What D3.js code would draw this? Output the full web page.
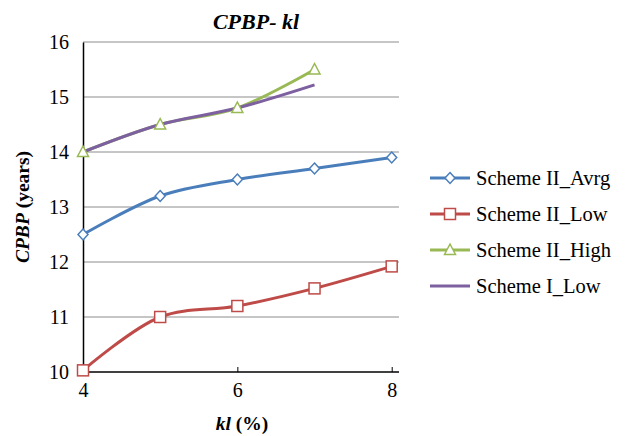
<!DOCTYPE html>
<html>
<head>
<meta charset="utf-8">
<script src="https://cdn.jsdelivr.net/npm/d3@7"></script>
<style>
  body { margin: 0; background: #fff; }
</style>
</head>
<body>
<div id="chart"></div>
<script>
// Dados
var kl = [4, 5, 6, 7, 8];
var avrg = [12.5, 13.2, 13.5, 13.7, 13.9];
var low = [10.03, 11.0, 11.2, 11.52, 11.92];
var high = [14.0, 14.5, 14.8, 15.5];
var schemeILow = [14.0, 14.5, 14.8, 15.22];
var yTicks = [10, 11, 12, 13, 14, 15, 16];
var xTicks = [4, 6, 8];

var series = [
  {name: "Scheme II_Avrg", values: avrg, color: "#4a7ebb", marker: "diamond"},
  {name: "Scheme II_Low", values: low, color: "#be4b48", marker: "square"},
  {name: "Scheme II_High", values: high, color: "#98b954", marker: "triangle"},
  {name: "Scheme I_Low", values: schemeILow, color: "#7d60a0", marker: "none"}
];

var font = "Liberation Serif";

// Tamanho do svg
var w = 629, h = 436;
var plotLeft = 83, plotRight = 399, plotTop = 42, plotBottom = 372;

var svg = d3.select("#chart").append("svg")
  .attr("width", w)
  .attr("height", h)
  .attr("font-family", font);

// Escalas
var x = d3.scaleLinear().domain([4, 8]).range([plotLeft, 391.7]);
var y = d3.scaleLinear().domain([10, 16]).range([plotBottom, plotTop]);

// Grid
svg.append("g").selectAll("line")
  .data(yTicks.slice(1))
  .enter().append("line")
  .attr("x1", plotLeft).attr("x2", plotRight)
  .attr("y1", function(d) { return y(d); })
  .attr("y2", function(d) { return y(d); })
  .attr("stroke", "#8c8c8c")
  .attr("stroke-width", 1);

// Eixos
var yAxis = d3.axisLeft(y).tickValues(yTicks).tickFormat(d3.format("d")).tickSize(0).tickPadding(14);
var xAxis = d3.axisBottom(x).tickValues(xTicks).tickFormat(d3.format("d")).tickSize(5).tickPadding(6);

var gy = svg.append("g").attr("transform", "translate(" + plotLeft + ",0)").call(yAxis);
gy.attr("font-family", font);
gy.select(".domain").attr("stroke", "#000").attr("stroke-width", 1.5);
gy.selectAll("text").attr("font-size", "20px").attr("font-family", font).attr("fill", "#000");

var gx = svg.append("g").attr("transform", "translate(0," + plotBottom + ")").call(xAxis);
gx.attr("font-family", font);
gx.select(".domain").remove();
gx.append("line").attr("x1", plotLeft).attr("x2", plotRight).attr("stroke", "#000").attr("stroke-width", 1.5);
gx.selectAll(".tick line").attr("stroke", "#000").attr("y1", -5).attr("y2", 0);
gx.selectAll("text").attr("font-size", "20px").attr("font-family", font).attr("fill", "#000");

// Linhas
var line = d3.line()
  .x(function(d, i) { return x(kl[i]); })
  .y(function(d) { return y(d); })
  .curve(d3.curveCatmullRom.alpha(0.5));

series.forEach(function(s) {
  svg.append("path")
    .datum(s.values)
    .attr("fill", "none")
    .attr("stroke", s.color)
    .attr("stroke-width", 3)
    .attr("d", line);
});

// Marcadores
function drawMarker(g, type, cx, cy, color) {
  if (type === "diamond") {
    g.append("path").attr("d", "M" + cx + "," + (cy - 5.5) + "L" + (cx + 5) + "," + cy + "L" + cx + "," + (cy + 5.5) + "L" + (cx - 5) + "," + cy + "Z")
      .attr("fill", "#fff").attr("stroke", color).attr("stroke-width", 1.5);
  } else if (type === "square") {
    g.append("rect").attr("x", cx - 5.5).attr("y", cy - 5.5).attr("width", 11).attr("height", 11)
      .attr("fill", "#fff").attr("stroke", color).attr("stroke-width", 1.5);
  } else if (type === "triangle") {
    g.append("path").attr("d", "M" + cx + "," + (cy - 6) + "L" + (cx + 5.5) + "," + (cy + 4.5) + "L" + (cx - 5.5) + "," + (cy + 4.5) + "Z")
      .attr("fill", "#fff").attr("stroke", color).attr("stroke-width", 1.5);
  }
}

series.forEach(function(s) {
  var g = svg.append("g");
  s.values.forEach(function(v, i) {
    drawMarker(g, s.marker, x(kl[i]), y(v), s.color);
  });
});

// Legenda
var legend = svg.append("g");
series.forEach(function(s, i) {
  var ly = 178 + i * 36;
  legend.append("line").attr("x1", 430).attr("x2", 470).attr("y1", ly).attr("y2", ly)
    .attr("stroke", s.color).attr("stroke-width", 3);
  drawMarker(legend, s.marker, 450, ly, s.color);
  legend.append("text").attr("x", 476).attr("y", ly + 7)
    .attr("font-size", "20.5px").attr("font-family", font).attr("fill", "#000")
    .text(s.name);
});

// Titulos
svg.append("text")
  .attr("x", 256).attr("y", 29)
  .attr("text-anchor", "middle")
  .attr("font-family", font)
  .attr("font-size", "22px").attr("font-weight", "bold").attr("font-style", "italic")
  .text("CPBP- kl");

var yt = svg.append("text")
  .attr("transform", "translate(29,207) rotate(-90)")
  .attr("text-anchor", "middle")
  .attr("font-family", font)
  .attr("font-size", "19.5px").attr("font-weight", "bold");
yt.append("tspan").attr("font-style", "italic").text("CPBP");
yt.append("tspan").text(" (years)");

var xt = svg.append("text")
  .attr("x", 242).attr("y", 430)
  .attr("text-anchor", "middle")
  .attr("font-family", font)
  .attr("font-size", "19.5px").attr("font-weight", "bold");
xt.append("tspan").attr("font-style", "italic").text("kl");
xt.append("tspan").text(" (%)");
</script>
</body>
</html>
